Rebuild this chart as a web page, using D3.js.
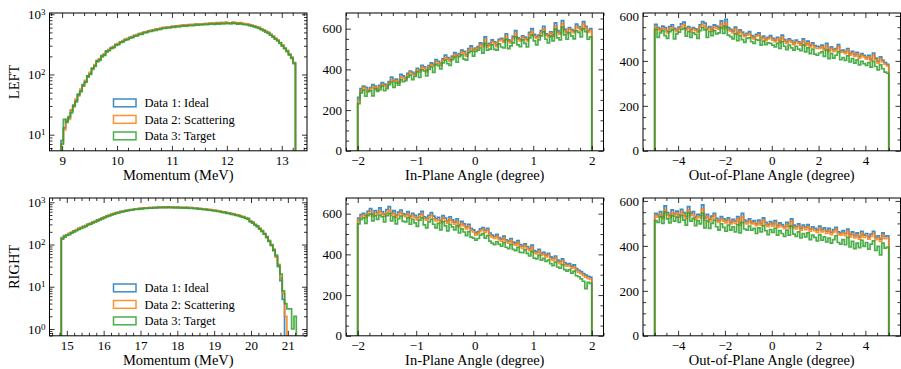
<!DOCTYPE html>
<html>
<head>
<meta charset="utf-8">
<script src="https://cdn.jsdelivr.net/npm/d3@7"></script>
<style>
  body { margin: 0; background: #fff; }
  svg { display: block; }
  text { font-family: "Liberation Serif", "DejaVu Serif", serif; fill: #000; }
  .tick-label { font-size: 13px; }
  .axis-label { font-size: 14.5px; }
  .legend-label { font-size: 12.5px; }
</style>
</head>
<body>
<div id="chart"></div>
<script>
const seriesNames = ["Data 1: Ideal", "Data 2: Scattering", "Data 3: Target"];
const seriesColors = ["#1f77b4", "#ff7f0e", "#2ca02c"];
const rowLabels = ["LEFT", "RIGHT"];
const xLabels = ["Momentum (MeV)", "In-Plane Angle (degree)", "Out-of-Plane Angle (degree)"];

// histogram ranges (100 bins each)
const leftMomRange = [8.98, 13.25];
const rightMomRange = [14.85, 21.23];
const inPlaneRange = [-2, 2];
const outPlaneRange = [-5, 5];

// LEFT momentum
const leftMomIdeal = [
  8, 13, 17, 19, 25, 31, 37, 47, 54, 68,
  76, 95, 103, 128, 141, 170, 178, 205, 214, 246,
  255, 279, 288, 316, 322, 350, 358, 385, 390, 415,
  421, 446, 450, 476, 480, 505, 512, 530, 534, 552,
  560, 575, 580, 598, 600, 615, 612, 630, 628, 645,
  640, 652, 660, 655, 668, 672, 665, 684, 678, 690,
  686, 700, 694, 705, 712, 700, 718, 708, 725, 716,
  730, 722, 712, 735, 718, 708, 720, 702, 690, 685,
  668, 655, 640, 618, 600, 575, 548, 520, 495, 462,
  430, 400, 370, 338, 305, 275, 248, 218, 190, 158];
const leftMomScatter = [
  7, 12, 18, 18, 26, 29, 39, 44, 57, 64,
  80, 90, 108, 122, 146, 162, 184, 198, 220, 238,
  262, 272, 294, 308, 330, 342, 366, 378, 398, 408,
  428, 438, 458, 468, 488, 498, 518, 522, 540, 545,
  566, 568, 588, 590, 606, 608, 620, 622, 635, 638,
  648, 645, 665, 650, 675, 665, 672, 678, 685, 682,
  695, 692, 700, 698, 718, 695, 725, 700, 730, 710,
  738, 715, 720, 728, 725, 700, 728, 695, 698, 678,
  675, 648, 645, 610, 605, 568, 552, 515, 500, 455,
  435, 395, 375, 332, 310, 270, 252, 212, 195, 155];
const leftMomTarget = [
  7, 18, 16, 20, 23, 30, 35, 46, 52, 65,
  74, 92, 100, 124, 136, 165, 172, 198, 208, 238,
  248, 270, 280, 305, 312, 340, 348, 372, 378, 402,
  408, 432, 436, 462, 465, 490, 495, 515, 518, 535,
  542, 558, 562, 580, 582, 596, 592, 612, 608, 625,
  620, 632, 640, 635, 648, 650, 645, 662, 658, 670,
  665, 680, 672, 685, 690, 680, 698, 688, 702, 695,
  708, 700, 690, 712, 698, 688, 698, 682, 670, 665,
  648, 635, 620, 600, 582, 558, 532, 505, 480, 448,
  418, 388, 360, 328, 296, 268, 240, 212, 185, 152];

// LEFT in-plane angle
const leftInIdeal = [
  262, 305, 318, 312, 298, 310, 325, 318, 305, 322,
  335, 328, 318, 340, 362, 345, 352, 338, 375, 368,
  358, 380, 392, 385, 378, 405, 398, 420, 412, 395,
  418, 432, 425, 448, 440, 428, 452, 470, 458, 448,
  465, 482, 470, 478, 495, 488, 472, 502, 515, 498,
  505, 512, 530, 522, 560, 518, 528, 545, 535, 520,
  548, 552, 540, 575, 545, 538, 562, 590, 555, 548,
  565, 558, 548, 582, 600, 572, 560, 568, 590, 612,
  575, 568, 585, 570, 628, 590, 580, 640, 598, 582,
  605, 595, 588, 622, 610, 598, 635, 612, 590, 600];
const leftInScatter = [
  250, 292, 312, 300, 292, 302, 310, 315, 298, 312,
  325, 320, 312, 330, 348, 340, 345, 332, 362, 358,
  352, 372, 385, 376, 370, 395, 388, 410, 405, 388,
  410, 422, 418, 438, 430, 420, 445, 458, 450, 440,
  458, 472, 462, 470, 485, 480, 465, 492, 505, 490,
  498, 505, 520, 512, 545, 510, 520, 535, 528, 512,
  540, 545, 532, 562, 538, 530, 552, 575, 548, 540,
  558, 550, 540, 572, 585, 565, 552, 560, 580, 598,
  568, 560, 578, 562, 612, 582, 572, 625, 590, 575,
  598, 588, 580, 610, 602, 590, 622, 605, 582, 592];
const leftInTarget = [
  232, 285, 298, 268, 290, 295, 270, 305, 292, 300,
  318, 295, 305, 325, 338, 312, 335, 322, 350, 340,
  345, 362, 372, 350, 365, 388, 360, 398, 392, 368,
  400, 412, 385, 425, 418, 402, 432, 445, 428, 420,
  448, 460, 435, 462, 472, 450, 445, 482, 490, 465,
  488, 495, 505, 480, 528, 495, 500, 520, 498, 495,
  525, 510, 505, 548, 502, 515, 530, 560, 520, 512,
  545, 528, 510, 555, 568, 540, 520, 545, 565, 585,
  548, 530, 562, 540, 598, 555, 545, 608, 570, 548,
  580, 565, 550, 590, 582, 560, 600, 585, 548, 560];

// LEFT out-of-plane angle
const leftOutIdeal = [
  562, 548, 540, 555, 548, 532, 552, 560, 545, 538,
  550, 565, 572, 545, 552, 538, 548, 542, 535, 560,
  575, 568, 545, 552, 540, 560, 555, 548, 578, 555,
  585, 548, 540, 532, 550, 525, 538, 528, 515, 522,
  530, 512, 505, 518, 525, 502, 510, 498, 505, 512,
  500, 492, 505, 488, 515, 495, 485, 498, 490, 480,
  492, 485, 478, 498, 475, 488, 470, 480, 468, 465,
  462, 470, 455, 478, 448, 462, 450, 455, 472, 445,
  448, 440, 455, 432, 442, 428, 438, 420, 432, 425,
  415, 425, 408, 435, 412, 398, 418, 402, 392, 385];
const leftOutScatter = [
  552, 540, 532, 545, 540, 525, 545, 548, 538, 530,
  542, 552, 560, 538, 545, 530, 540, 535, 528, 550,
  562, 555, 538, 545, 532, 550, 545, 540, 565, 545,
  568, 538, 532, 525, 542, 518, 530, 520, 508, 515,
  520, 505, 498, 510, 515, 495, 502, 490, 498, 502,
  492, 485, 498, 480, 505, 488, 478, 490, 482, 472,
  485, 478, 470, 488, 468, 480, 462, 472, 460, 455,
  455, 462, 448, 468, 440, 455, 442, 448, 462, 438,
  440, 432, 448, 425, 435, 420, 430, 412, 425, 418,
  408, 418, 400, 425, 405, 390, 410, 395, 385, 378];
const leftOutTarget = [
  540, 505, 525, 535, 512, 500, 530, 538, 498, 520,
  528, 540, 545, 510, 530, 505, 525, 518, 500, 535,
  548, 538, 505, 530, 512, 535, 520, 525, 548, 522,
  552, 515, 508, 498, 520, 490, 512, 495, 482, 500,
  502, 485, 478, 495, 492, 470, 488, 472, 480, 478,
  470, 462, 478, 455, 485, 465, 450, 470, 458, 448,
  465, 452, 445, 470, 440, 458, 432, 452, 430, 425,
  435, 440, 420, 448, 410, 432, 412, 425, 440, 405,
  415, 402, 422, 395, 410, 390, 405, 382, 398, 388,
  380, 392, 372, 398, 375, 360, 382, 365, 350, 345];

// RIGHT momentum
const rightMomIdeal = [
  145, 162, 168, 185, 192, 210, 218, 240, 246, 270,
  275, 305, 312, 342, 350, 382, 395, 428, 440, 478,
  488, 522, 532, 570, 575, 608, 612, 645, 642, 675,
  672, 698, 695, 720, 712, 738, 728, 750, 740, 760,
  750, 772, 755, 778, 760, 775, 758, 772, 755, 768,
  750, 762, 745, 755, 735, 745, 722, 730, 708, 712,
  688, 692, 668, 672, 645, 648, 620, 622, 592, 592,
  562, 562, 532, 528, 498, 495, 462, 456, 425, 415,
  352, 338, 292, 276, 235, 215, 175, 154, 118, 100,
  72, 52, 30, 14, 5, 0, 0, 0, 0, 0];
const rightMomScatter = [
  140, 155, 172, 178, 198, 202, 225, 232, 255, 260,
  285, 295, 322, 330, 360, 370, 405, 415, 452, 465,
  500, 510, 545, 555, 585, 595, 622, 630, 655, 660,
  685, 685, 705, 708, 725, 725, 740, 738, 752, 748,
  762, 755, 768, 760, 770, 762, 770, 760, 768, 755,
  762, 750, 758, 742, 748, 732, 735, 718, 720, 700,
  700, 680, 680, 660, 658, 635, 632, 610, 605, 580,
  575, 550, 545, 518, 510, 482, 475, 445, 435, 405,
  365, 325, 305, 265, 245, 205, 185, 146, 125, 95,
  78, 50, 34, 16, 7, 2, 0, 0, 0, 0];
const rightMomTarget = [
  135, 150, 165, 172, 188, 198, 212, 228, 242, 255,
  270, 290, 305, 325, 342, 362, 385, 405, 432, 455,
  478, 500, 522, 545, 562, 585, 600, 620, 632, 650,
  660, 675, 682, 698, 702, 715, 718, 730, 728, 742,
  740, 745, 742, 752, 748, 758, 745, 752, 740, 748,
  738, 740, 728, 735, 718, 722, 705, 710, 692, 690,
  672, 668, 652, 648, 630, 625, 605, 598, 580, 570,
  548, 540, 520, 508, 488, 475, 455, 440, 415, 400,
  350, 322, 290, 265, 232, 205, 178, 148, 120, 96,
  74, 56, 32, 20, 8, 4, 3, 3, 1, 2];

// RIGHT in-plane angle
const rightInIdeal = [
  578, 595, 602, 590, 612, 625, 598, 615, 605, 628,
  610, 598, 620, 635, 602, 615, 592, 608, 618, 600,
  595, 610, 588, 602, 592, 580, 598, 612, 585, 578,
  592, 605, 588, 575, 582, 565, 590, 578, 562, 585,
  570, 558, 575, 545, 562, 550, 535, 548, 528, 520,
  505, 512, 525, 532, 518, 528, 505, 495, 488, 498,
  482, 475, 490, 472, 465, 478, 460, 455, 468, 448,
  440, 452, 438, 428, 445, 418, 412, 425, 405, 410,
  398, 405, 388, 380, 392, 372, 365, 378, 360, 352,
  355, 342, 348, 330, 322, 315, 305, 298, 292, 288];
const rightInScatter = [
  568, 585, 592, 580, 600, 612, 588, 602, 595, 612,
  598, 588, 605, 618, 592, 602, 582, 595, 605, 590,
  585, 598, 578, 590, 582, 570, 585, 598, 575, 568,
  580, 592, 575, 565, 570, 555, 578, 565, 552, 572,
  558, 548, 562, 535, 550, 540, 525, 538, 518, 510,
  495, 502, 515, 522, 508, 518, 495, 485, 478, 488,
  472, 465, 480, 462, 455, 468, 450, 445, 458, 438,
  430, 442, 428, 418, 435, 408, 402, 415, 395, 400,
  388, 395, 378, 370, 382, 362, 355, 368, 350, 342,
  345, 332, 338, 320, 312, 305, 295, 288, 282, 278];
const rightInTarget = [
  550, 572, 580, 552, 590, 598, 565, 590, 572, 592,
  585, 560, 590, 600, 565, 585, 550, 575, 588, 562,
  560, 580, 548, 572, 555, 538, 568, 580, 545, 530,
  560, 572, 548, 530, 552, 520, 560, 540, 515, 548,
  535, 520, 540, 505, 525, 510, 492, 512, 485, 480,
  470, 478, 495, 502, 480, 492, 465, 455, 448, 462,
  450, 440, 458, 435, 428, 448, 425, 418, 435, 410,
  408, 422, 405, 392, 415, 382, 378, 395, 372, 380,
  365, 372, 355, 345, 362, 338, 332, 350, 325, 318,
  325, 308, 318, 295, 290, 280, 268, 232, 262, 258];

// RIGHT out-of-plane angle
const rightOutIdeal = [
  545, 538, 552, 530, 578, 548, 535, 560, 542, 555,
  538, 562, 548, 530, 575, 545, 552, 528, 540, 535,
  582, 525, 540, 518, 532, 545, 522, 512, 530, 520,
  512, 525, 505, 518, 510, 530, 502, 545, 515, 508,
  520, 505, 512, 498, 515, 500, 525, 505, 495, 508,
  498, 512, 490, 502, 495, 485, 505, 488, 520, 492,
  485, 498, 478, 492, 482, 495, 475, 485, 478, 470,
  488, 472, 480, 465, 478, 460, 472, 482, 462, 458,
  468, 455, 475, 450, 462, 445, 458, 440, 465, 448,
  455, 440, 452, 465, 438, 445, 430, 458, 442, 445];
const rightOutScatter = [
  535, 528, 540, 522, 560, 538, 525, 548, 532, 545,
  528, 550, 538, 520, 560, 535, 540, 518, 530, 525,
  565, 515, 530, 508, 522, 535, 512, 505, 520, 510,
  502, 515, 498, 508, 500, 520, 492, 530, 505, 498,
  510, 498, 502, 490, 505, 492, 515, 495, 485, 498,
  488, 502, 482, 492, 485, 478, 495, 480, 510, 482,
  475, 488, 470, 482, 472, 485, 465, 475, 468, 460,
  478, 462, 470, 455, 468, 450, 462, 472, 452, 448,
  458, 445, 465, 440, 452, 435, 448, 430, 455, 438,
  445, 430, 442, 455, 428, 435, 420, 448, 432, 435];
const rightOutTarget = [
  512, 505, 530, 500, 550, 520, 502, 535, 510, 528,
  505, 535, 515, 492, 548, 510, 522, 490, 512, 498,
  545, 480, 510, 478, 500, 515, 485, 470, 498, 482,
  465, 492, 470, 485, 462, 495, 458, 505, 475, 470,
  488, 470, 478, 455, 480, 462, 490, 468, 450, 472,
  460, 478, 448, 468, 455, 442, 470, 448, 488, 452,
  442, 462, 435, 455, 440, 458, 428, 448, 438, 422,
  450, 425, 440, 418, 435, 412, 428, 445, 415, 408,
  428, 405, 438, 395, 420, 388, 412, 392, 425, 398,
  415, 385, 408, 422, 380, 398, 360, 412, 390, 395];

const width = 901, height = 369;
const colLeft = [49.5, 346, 643];
const plotW = 257.5;
const rowTop = [13, 198];
const plotH = 137.8;

const panels = [
  { row: 0, col: 0, range: leftMomRange, series: [leftMomIdeal, leftMomScatter, leftMomTarget],
    log: true, xDomain: [8.77, 13.46], yDomain: [5.4, 1050], xMajor: 1, xMinor: 0.2, legend: true },
  { row: 0, col: 1, range: inPlaneRange, series: [leftInIdeal, leftInScatter, leftInTarget],
    log: false, xDomain: [-2.2, 2.2], yDomain: [0, 677], xMajor: 1, xMinor: 0.2 },
  { row: 0, col: 2, range: outPlaneRange, series: [leftOutIdeal, leftOutScatter, leftOutTarget],
    log: false, xDomain: [-5.5, 5.5], yDomain: [0, 613], xMajor: 2, xMinor: 0.5 },
  { row: 1, col: 0, range: rightMomRange, series: [rightMomIdeal, rightMomScatter, rightMomTarget],
    log: true, xDomain: [14.53, 21.52], yDomain: [0.69, 1264], xMajor: 1, xMinor: 0.2, legend: true },
  { row: 1, col: 1, range: inPlaneRange, series: [rightInIdeal, rightInScatter, rightInTarget],
    log: false, xDomain: [-2.2, 2.2], yDomain: [0, 677], xMajor: 1, xMinor: 0.2 },
  { row: 1, col: 2, range: outPlaneRange, series: [rightOutIdeal, rightOutScatter, rightOutTarget],
    log: false, xDomain: [-5.5, 5.5], yDomain: [0, 613], xMajor: 2, xMinor: 0.5 }
];

const svg = d3.select("#chart").append("svg")
  .attr("width", width)
  .attr("height", height);

const ticksBetween = (lo, hi, step) =>
  d3.range(Math.ceil(lo / step - 1e-9), Math.floor(hi / step + 1e-9) + 1).map(k => +(k * step).toFixed(6));

function drawPanel(p, idx) {
  const g = svg.append("g")
    .attr("transform", `translate(${colLeft[p.col]},${rowTop[p.row]})`);

  const x = d3.scaleLinear().domain(p.xDomain).range([0, plotW]);
  const y = p.log
    ? d3.scaleLog().domain(p.yDomain).range([plotH, 0])
    : d3.scaleLinear().domain(p.yDomain).range([plotH, 0]);
  const yPix = v => (p.log && v <= 0) ? plotH + 10 : y(v);

  g.append("clipPath").attr("id", "clip" + idx)
    .append("rect").attr("width", plotW).attr("height", plotH);

  // step histograms, drawn in order so the target sits on top
  const lines = g.append("g").attr("clip-path", `url(#clip${idx})`);
  p.series.forEach((vals, si) => {
    const n = vals.length;
    const edges = d3.range(n + 1).map(i => p.range[0] + (p.range[1] - p.range[0]) * i / n);
    const pts = [[x(edges[0]), yPix(0)]];
    vals.forEach((v, i) => {
      pts.push([x(edges[i]), yPix(v)]);
      pts.push([x(edges[i + 1]), yPix(v)]);
    });
    pts.push([x(edges[n]), yPix(0)]);
    lines.append("path")
      .attr("d", d3.line()(pts))
      .attr("fill", "none")
      .attr("stroke", seriesColors[si])
      .attr("stroke-opacity", 0.85)
      .attr("stroke-width", 1.7);
  });

  // ticks on all four sides, pointing in
  const xMajorT = ticksBetween(p.xDomain[0], p.xDomain[1], p.xMajor);
  const xMinorT = ticksBetween(p.xDomain[0], p.xDomain[1], p.xMinor)
    .filter(t => !xMajorT.some(m => Math.abs(m - t) < 1e-6));
  let yMajorT, yMinorT;
  if (p.log) {
    yMajorT = [1, 10, 100, 1000].filter(v => v >= p.yDomain[0] && v <= p.yDomain[1]);
    yMinorT = [];
    [0.1, 1, 10, 100, 1000].forEach(d => d3.range(2, 10).forEach(k => {
      const v = d * k;
      if (v >= p.yDomain[0] && v <= p.yDomain[1]) yMinorT.push(v);
    }));
  } else {
    yMajorT = ticksBetween(p.yDomain[0], p.yDomain[1], 200);
    yMinorT = ticksBetween(p.yDomain[0], p.yDomain[1], 50).filter(t => t % 200 !== 0);
  }

  const clean = sel => {
    sel.select(".domain").remove();
    sel.attr("font-family", null).attr("font-size", null);
    sel.selectAll("line").attr("stroke", "#000").attr("stroke-width", 0.8);
  };

  g.append("g").attr("transform", `translate(0,${plotH})`)
    .call(d3.axisBottom(x).tickValues(xMajorT).tickSize(-5).tickPadding(4.5).tickFormat(d3.format("")))
    .call(clean)
    .selectAll("text").attr("class", "tick-label");
  g.append("g").attr("transform", `translate(0,${plotH})`)
    .call(d3.axisBottom(x).tickValues(xMinorT).tickSize(-3).tickFormat("")).call(clean);
  g.append("g")
    .call(d3.axisTop(x).tickValues(xMajorT).tickSize(-5).tickFormat("")).call(clean);
  g.append("g")
    .call(d3.axisTop(x).tickValues(xMinorT).tickSize(-3).tickFormat("")).call(clean);

  const yLeft = g.append("g")
    .call(d3.axisLeft(y).tickValues(yMajorT).tickSize(-5).tickPadding(4)
      .tickFormat(p.log ? () => "" : d3.format("")))
    .call(clean);
  yLeft.selectAll("text").attr("class", "tick-label");
  if (p.log) {
    yLeft.selectAll(".tick").each(function(d) {
      const t = d3.select(this).select("text");
      t.append("tspan").text("10");
      t.append("tspan").attr("dy", "-0.45em").attr("font-size", "9px").text(Math.round(Math.log10(d)));
    });
  }
  g.append("g")
    .call(d3.axisLeft(y).tickValues(yMinorT).tickSize(-3).tickFormat("")).call(clean);
  g.append("g").attr("transform", `translate(${plotW},0)`)
    .call(d3.axisRight(y).tickValues(yMajorT).tickSize(-5).tickFormat("")).call(clean);
  g.append("g").attr("transform", `translate(${plotW},0)`)
    .call(d3.axisRight(y).tickValues(yMinorT).tickSize(-3).tickFormat("")).call(clean);

  g.append("rect")
    .attr("width", plotW).attr("height", plotH)
    .attr("fill", "none").attr("stroke", "#000").attr("stroke-width", 1);

  g.append("text")
    .attr("class", "axis-label")
    .attr("x", plotW / 2).attr("y", plotH + 29.5)
    .attr("text-anchor", "middle")
    .text(xLabels[p.col]);

  if (p.col === 0) {
    g.append("text")
      .attr("class", "axis-label")
      .attr("transform", `translate(${19 - colLeft[0]},${plotH / 2}) rotate(-90)`)
      .attr("text-anchor", "middle")
      .text(rowLabels[p.row]);
  }

  if (p.legend) {
    const lg = g.append("g").attr("transform", "translate(64,86)");
    seriesNames.forEach((name, si) => {
      const row = lg.append("g").attr("transform", `translate(0,${si * 16.5})`);
      row.append("rect")
        .attr("width", 22.5).attr("height", 7.8)
        .attr("fill", "none")
        .attr("stroke", seriesColors[si])
        .attr("stroke-opacity", 0.85)
        .attr("stroke-width", 1.5);
      row.append("text")
        .attr("class", "legend-label")
        .attr("x", 31).attr("y", 8.2)
        .text(name);
    });
  }
}

panels.forEach(drawPanel);
</script>
</body>
</html>
